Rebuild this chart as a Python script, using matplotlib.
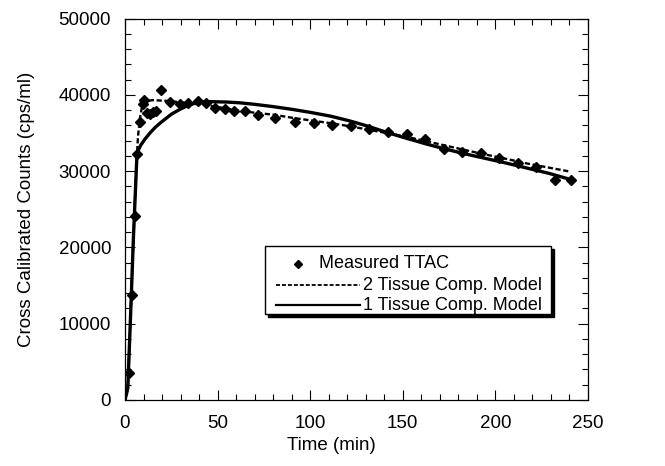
import numpy as np
import matplotlib
matplotlib.use("Agg")
import matplotlib.pyplot as plt
from matplotlib.patches import Rectangle
from matplotlib.lines import Line2D
from matplotlib.ticker import MultipleLocator

plt.rcParams['font.family'] = ['Liberation Sans', 'DejaVu Sans']

# Measured tissue time-activity curve
t_meas = [2.2, 3.8, 5.3, 6.5, 8.0, 9.5, 10.5, 11.7, 13.3, 15.0, 16.7, 19.4,
          24.3, 29.5, 34.0, 39.5, 44.0, 48.5, 54.0, 59.0, 65.0, 72.0, 81.0,
          92.0, 102.0, 112.0, 122.0, 132.0, 142.0, 152.0, 162.0, 172.0,
          182.0, 192.0, 202.0, 212.0, 222.0, 232.0, 241.0]
y_meas = [3500, 13700, 24100, 32300, 36500, 38800, 39300, 37600, 37500,
          37700, 37900, 40600, 39100, 38800, 38900, 39200, 38900, 38300,
          38100, 37900, 37900, 37300, 37000, 36500, 36350, 36000, 35900,
          35550, 35150, 34800, 34150, 32950, 32500, 32400, 31700, 31100,
          30600, 28850, 28800]

# Two tissue compartment model fit
t_2tc = [0, 1.5, 3, 4.5, 6, 7, 8, 9, 10, 12, 15, 19, 23, 27, 32, 40, 50, 62,
         70, 80, 90, 100, 112, 122, 131, 141, 152, 162, 172, 182, 193, 205,
         217, 229, 240]
y_2tc = [0, 1500, 11000, 21000, 30000, 34500, 36800, 38200, 38900, 39200,
         39300, 39250, 39200, 39100, 38950, 38750, 38400, 37900, 37650, 37400,
         37000, 36650, 36250, 35850, 35450, 35000, 34500, 33950, 33400, 32850,
         32250, 31650, 31000, 30450, 29950]

# One tissue compartment model fit
t_1tc = [0, 1.5, 3, 4.5, 6.5, 8.5, 10.8, 13.5, 16.2, 19, 21.6, 25, 29.7, 34,
         37.8, 42, 46, 55, 62, 70, 80, 90, 100, 111, 121, 131, 141, 152, 162,
         172, 182, 193, 205, 217, 229, 242]
y_1tc = [0, 1500, 11000, 21000, 32400, 33400, 34200, 35000, 35700, 36300,
         36800, 37450, 38100, 38600, 38900, 39050, 39100, 39050, 38950, 38750,
         38450, 38100, 37700, 37200, 36600, 35900, 35100, 34300, 33600, 32950,
         32350, 31750, 31100, 30400, 29700, 28800]

legend_labels = ['Measured TTAC', '2 Tissue Comp. Model', '1 Tissue Comp. Model']

fig = plt.figure(figsize=(6.65, 4.66), dpi=100)
ax = fig.add_axes([125 / 665, 1 - 400 / 466, 463 / 665, 381.5 / 466])

ax.plot(t_2tc, y_2tc, color='black', lw=1.7, linestyle=(0, (2.2, 1.1)))
ax.plot(t_1tc, y_1tc, color='black', lw=2.4, solid_capstyle='butt')
ax.plot(t_meas, y_meas, linestyle='none', marker='D', ms=5.4,
        color='black', mec='black')

ax.set_xlim(0, 250)
ax.set_ylim(0, 50000)
ax.xaxis.set_major_locator(MultipleLocator(50))
ax.xaxis.set_minor_locator(MultipleLocator(10))
ax.yaxis.set_major_locator(MultipleLocator(10000))
ax.yaxis.set_minor_locator(MultipleLocator(2000))
ax.tick_params(which='both', direction='in', top=True, right=True,
               labelsize=13.5, width=0.8)
ax.tick_params(axis='x', which='major', pad=11)
ax.tick_params(axis='y', which='major', pad=10)
ax.tick_params(which='major', length=7)
ax.tick_params(which='minor', length=4)
for sp in ax.spines.values():
    sp.set_linewidth(0.9)

ax.set_xlabel('Time (min)', fontsize=13.5)
ax.set_ylabel('Cross Calibrated Counts (cps/ml)', fontsize=13.5)
ax.xaxis.set_label_coords((331 - 125) / 463, (400 - 437) / 381.5)
ax.yaxis.set_label_coords((35 - 125) / 463, 0.5)

# Framed legend with a drop shadow
def fx(px):
    return (px - 125) / 463

def fy(py):
    return (400 - py) / 381.5

bx0, bx1, by0, by1 = fx(265), fx(551), fy(314), fy(246)
ax.add_patch(Rectangle((bx0 + 0.007, by0 - 0.009), bx1 - bx0, by1 - by0,
                       transform=ax.transAxes, facecolor='black',
                       edgecolor='black', zorder=5))
ax.add_patch(Rectangle((bx0, by0), bx1 - bx0, by1 - by0,
                       transform=ax.transAxes, facecolor='white',
                       edgecolor='black', lw=1.0, zorder=6))

rows = [fy(264), fy(285), fy(305)]
ax.add_line(Line2D([fx(298)], [rows[0]], transform=ax.transAxes,
                   marker='D', ms=4.4, color='black', zorder=7))
ax.add_line(Line2D([fx(276), fx(360)], [rows[1]] * 2, transform=ax.transAxes,
                   color='black', lw=1.3, linestyle=(0, (2.2, 1.1)), zorder=7))
ax.add_line(Line2D([fx(276), fx(360)], [rows[2]] * 2, transform=ax.transAxes,
                   color='black', lw=1.6, zorder=7))
ax.text(fx(319), rows[0], legend_labels[0], transform=ax.transAxes,
        fontsize=13, va='center', ha='left', zorder=7)
ax.text(fx(363), rows[1], legend_labels[1], transform=ax.transAxes,
        fontsize=13, va='center', ha='left', zorder=7)
ax.text(fx(363), rows[2], legend_labels[2], transform=ax.transAxes,
        fontsize=13, va='center', ha='left', zorder=7)

fig.savefig('out.png', dpi=100)
